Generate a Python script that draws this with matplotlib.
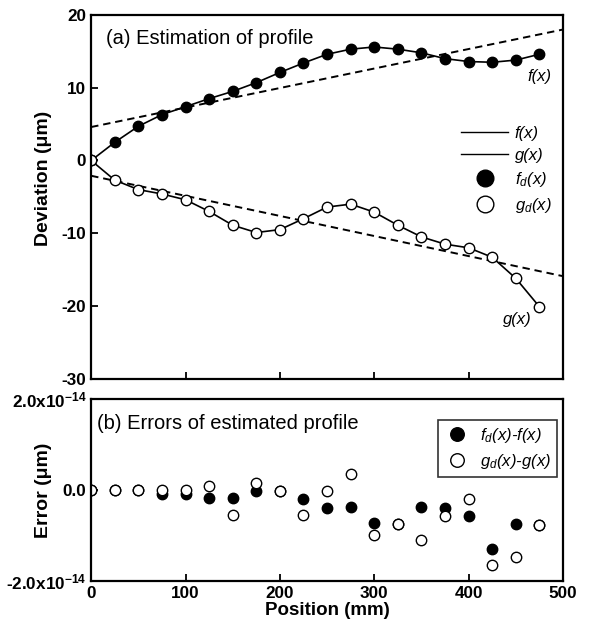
import matplotlib
matplotlib.use("Agg")
import matplotlib.pyplot as plt
from matplotlib.lines import Line2D

plt.rcParams["font.family"] = "Liberation Sans"
plt.rcParams["mathtext.fontset"] = "custom"
plt.rcParams["mathtext.rm"] = "Liberation Sans"
plt.rcParams["mathtext.it"] = "Liberation Sans:italic"
plt.rcParams["mathtext.bf"] = "Liberation Sans:bold"
plt.rcParams["axes.unicode_minus"] = False

# sampling positions along the profile (mm)
position = [0, 25, 50, 75, 100, 125, 150, 175, 200, 225,
            250, 275, 300, 325, 350, 375, 400, 425, 450, 475]

# estimated profiles (um)
f_d = [0.0, 2.5, 4.7, 6.3, 7.4, 8.5, 9.5, 10.7, 12.1, 13.4,
       14.6, 15.3, 15.6, 15.3, 14.8, 14.0, 13.6, 13.5, 13.8, 14.6]
g_d = [0.0, -2.7, -4.0, -4.6, -5.4, -7.0, -8.9, -9.9, -9.5, -8.0,
       -6.4, -6.0, -7.1, -8.9, -10.5, -11.5, -12.0, -13.3, -16.2, -20.1]

# straight trend lines (end points)
trend_x = [0, 500]
f_trend = [4.6, 18.0]
g_trend = [-2.1, -15.9]

# estimation errors, in units of 1e-14 um
err_scale = 1e-14
f_err = [0.0, 0.0, 0.0, -0.09, -0.09, -0.17, -0.18, -0.02, -0.02, -0.20,
         -0.39, -0.37, -0.73, -0.75, -0.37, -0.39, -0.57, -1.30, -0.75, -0.77]
g_err = [0.0, 0.0, 0.0, 0.0, 0.0, 0.09, -0.55, 0.16, -0.02, -0.55,
         -0.02, 0.34, -1.00, -0.75, -1.10, -0.57, -0.20, -1.65, -1.48, -0.77]

x_ticks = [0, 100, 200, 300, 400, 500]
dev_ticks = [-30, -20, -10, 0, 10, 20]
err_ticks = [-2e-14, 0.0, 2e-14]
err_tick_labels = [r"-2.0x10$^{\mathbf{-14}}$", "0.0", r"2.0x10$^{\mathbf{-14}}$"]

fig = plt.figure(figsize=(5.92, 6.24), dpi=100)
ax1 = fig.add_axes([0.154, 0.393, 0.797, 0.583])
ax2 = fig.add_axes([0.154, 0.069, 0.797, 0.292])

ms = 7.5
dash = (0, (3.8, 2.5))

# (a) profiles
ax1.plot(trend_x, f_trend, color="k", lw=1.4, ls=dash)
ax1.plot(trend_x, g_trend, color="k", lw=1.4, ls=dash)
ax1.plot(position, f_d, color="k", lw=1.2)
ax1.plot(position, g_d, color="k", lw=1.2)
ax1.plot(position, f_d, ls="none", marker="o", ms=ms, mfc="k", mec="k")
ax1.plot(position, g_d, ls="none", marker="o", ms=ms, mfc="w", mec="k", mew=1.0)

ax1.text(475, 11.5, "f(x)", style="italic", fontsize=12, ha="center", va="center")
ax1.text(452, -21.9, "g(x)", style="italic", fontsize=12, ha="center", va="center")
ax1.text(0.032, 0.935, "(a) Estimation of profile", transform=ax1.transAxes,
         fontsize=14.5, ha="left", va="center")

handles = [
    Line2D([], [], color="k", lw=1.0),
    Line2D([], [], color="k", lw=1.0),
    Line2D([], [], ls="none", marker="o", ms=ms, mfc="k", mec="k"),
    Line2D([], [], ls="none", marker="o", ms=ms, mfc="w", mec="k", mew=1.0),
]
labels = ["f(x)", "g(x)", "f$_d$(x)", "g$_d$(x)"]
ax1.legend(handles, labels, loc="upper right", bbox_to_anchor=(1.0, 0.727),
           frameon=False, markerscale=1.6, handlelength=2.8, handletextpad=0.4,
           labelspacing=0.42, borderpad=0.2,
           prop={"style": "italic", "size": 12})

ax1.set_xlim(0, 500)
ax1.set_ylim(-30, 20)
ax1.set_xticks(x_ticks)
ax1.set_xticklabels([])
ax1.set_yticks(dev_ticks)
ax1.set_yticklabels([str(t) for t in dev_ticks], fontweight="bold")
ax1.set_ylabel("Deviation (\u03bcm)", fontsize=14, fontweight="bold")
ax1.yaxis.set_label_coords(-0.083, 0.55)

# (b) errors
ax2.plot(position, [v * err_scale for v in f_err], ls="none", marker="o",
         ms=ms, mfc="k", mec="k", label="f$_d$(x)-f(x)")
ax2.plot(position, [v * err_scale for v in g_err], ls="none", marker="o",
         ms=ms, mfc="w", mec="k", mew=1.0, label="g$_d$(x)-g(x)")
ax2.text(0.013, 0.865, "(b) Errors of estimated profile", transform=ax2.transAxes,
         fontsize=14.5, ha="left", va="center")
leg = ax2.legend(loc="upper right", bbox_to_anchor=(0.987, 0.885), frameon=True,
                 fancybox=False, markerscale=1.3, handlelength=1.6,
                 handletextpad=0.6, labelspacing=0.45, borderpad=0.35,
                 borderaxespad=0, prop={"style": "italic", "size": 12})
leg.get_frame().set_edgecolor("k")
leg.get_frame().set_linewidth(1.2)

ax2.set_xlim(0, 500)
ax2.set_ylim(-2e-14, 2e-14)
ax2.set_xticks(x_ticks)
ax2.set_xticklabels([str(t) for t in x_ticks], fontweight="bold")
ax2.set_yticks(err_ticks)
ax2.set_yticklabels(err_tick_labels, fontweight="bold")
ax2.set_xlabel("Position (mm)", fontsize=13.5, fontweight="bold", labelpad=1)
ax2.set_ylabel("Error (\u03bcm)", fontsize=14, fontweight="bold")
ax2.yaxis.set_label_coords(-0.083, 0.5)

for ax in (ax1, ax2):
    for sp in ax.spines.values():
        sp.set_linewidth(1.6)
    ax.tick_params(direction="in", length=5, width=1.3, labelsize=12.3, pad=3.5)

fig.savefig("out.png", dpi=100)
